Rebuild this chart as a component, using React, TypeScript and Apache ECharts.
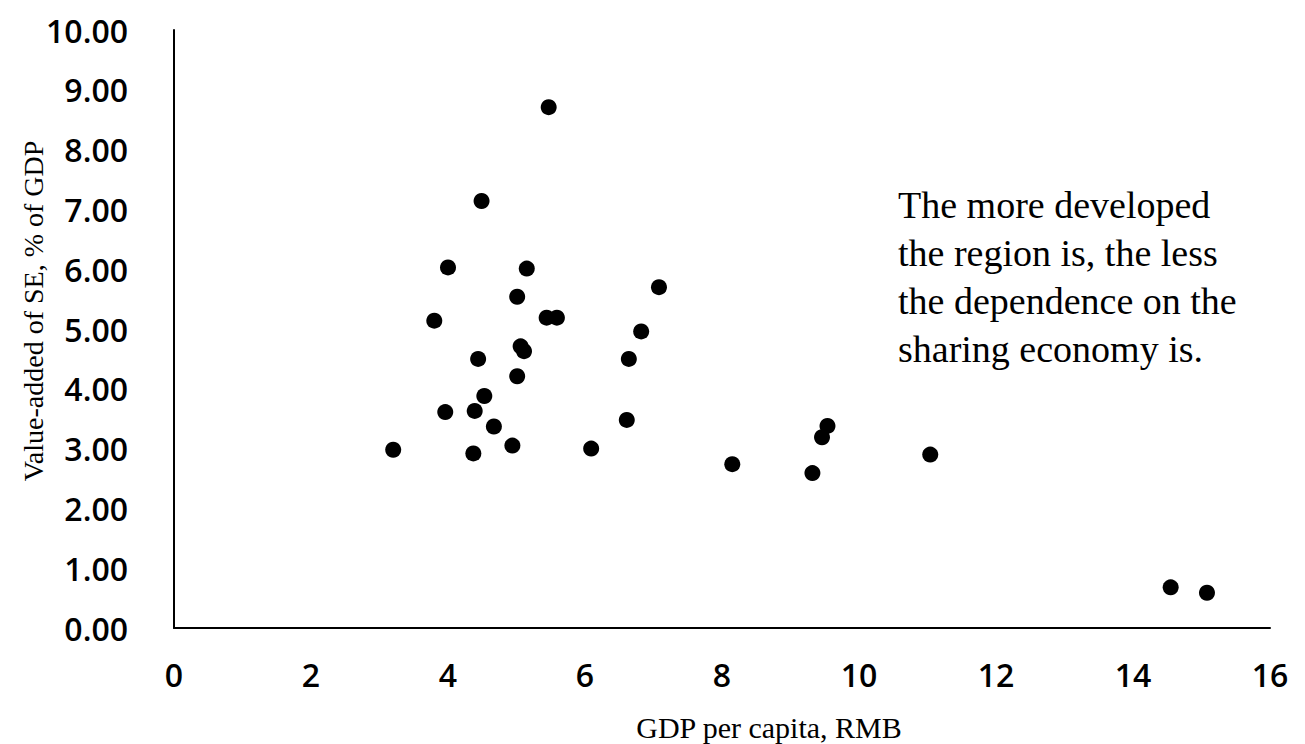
import React, { useEffect, useRef } from "react";
import * as echarts from "echarts";

const gdpPerCapita = [
  5.47, 4.49, 4.0, 5.15, 7.08, 5.01, 3.8, 5.44, 5.59, 6.82, 5.06, 5.11, 4.44, 6.64,
  5.01, 4.53, 3.96, 4.39, 4.67, 6.61, 4.94, 3.2, 4.37, 6.09, 8.15, 9.32, 9.46, 9.54,
  11.04, 14.55, 15.08,
];
const valueAddedSE = [
  8.71, 7.14, 6.03, 6.01, 5.7, 5.54, 5.14, 5.19, 5.19, 4.96, 4.71, 4.63, 4.5, 4.5,
  4.21, 3.88, 3.61, 3.63, 3.37, 3.48, 3.05, 2.98, 2.92, 3.0, 2.74, 2.59, 3.19, 3.38,
  2.9, 0.68, 0.59,
];
const xAxisName = "GDP per capita, RMB";
const yAxisName = "Value-added of SE, % of GDP";
const noteLines = [
  "The more developed",
  "the region is, the less",
  "the dependence on the",
  "sharing economy is.",
];

export default function App() {
  const ref = useRef<HTMLDivElement>(null);
  useEffect(() => {
    if (!ref.current) return;
    const chart = echarts.init(ref.current, undefined, { renderer: "svg" });
    const points = gdpPerCapita.map((x, i) => [x, valueAddedSE[i]]);
    const tickLabel = {
      fontFamily: "Open Sans",
      fontSize: 32,
      fontWeight: 600,
      color: "#000",
    };
    chart.setOption({
      animation: false,
      backgroundColor: "#ffffff",
      grid: { left: 174, right: 35, top: 30, bottom: 116, containLabel: false },
      xAxis: {
        type: "value",
        min: 0,
        max: 16,
        interval: 2,
        axisLine: { show: true, lineStyle: { color: "#000", width: 2 } },
        axisTick: { show: false },
        splitLine: { show: false },
        axisLabel: { margin: 30, ...tickLabel },
      },
      yAxis: {
        type: "value",
        min: 0,
        max: 10,
        interval: 1,
        axisLine: { show: true, lineStyle: { color: "#000", width: 2 } },
        axisTick: { show: false },
        splitLine: { show: false },
        axisLabel: {
          margin: 46,
          ...tickLabel,
          formatter: (v: number) => v.toFixed(2),
        },
      },
      series: [
        {
          type: "scatter",
          data: points,
          symbol: "circle",
          symbolSize: 16,
          itemStyle: { color: "#000", opacity: 1 },
        },
      ],
      graphic: [
        {
          type: "text",
          x: 898,
          y: 181,
          style: {
            text: noteLines.join("\n"),
            fontFamily: "Liberation Serif",
            fontSize: 38,
            lineHeight: 48,
            fill: "#000",
          },
        },
        {
          type: "text",
          x: 769,
          y: 727,
          style: {
            text: xAxisName,
            fontFamily: "Liberation Serif",
            fontSize: 30,
            fill: "#000",
            align: "center",
            verticalAlign: "middle",
          },
        },
        {
          type: "text",
          x: 33,
          y: 311,
          rotation: Math.PI / 2,
          style: {
            text: yAxisName,
            fontFamily: "Liberation Serif",
            fontSize: 28,
            fill: "#000",
            align: "center",
            verticalAlign: "middle",
          },
        },
      ],
    });
    return () => chart.dispose();
  }, []);
  return (
    <div
      ref={ref}
      style={{ position: "fixed", left: 0, top: 0, width: 1305, height: 744 }}
    />
  );
}
